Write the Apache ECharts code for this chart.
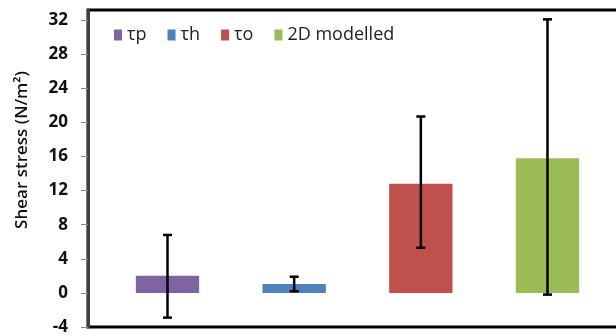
<!DOCTYPE html>
<html><head><meta charset="utf-8">
<script src="https://cdn.jsdelivr.net/npm/echarts@6/dist/echarts.min.js"></script>
<style>html,body{margin:0;padding:0;background:#fff}#c{width:616px;height:336px}</style>
</head><body><div id="c"></div>
<script>
const categories = [''];
const seriesNames = ['τp', 'τh', 'το', '2D modelled'];
const values = [2.0, 1.05, 12.8, 15.8];
const errLow = [-2.9, 0.2, 5.3, -0.2];
const errHigh = [6.8, 1.9, 20.7, 32.1];
const yMin = -4, yMax = 33.2, yInterval = 4;
const yTitle = 'Shear stress (N/m\u00B2)';

const colors = ['#8064A2', '#4F81BD', '#C0504D', '#9BBB59'];
const BAR_FRAC = 0.1175;
const chart = echarts.init(document.getElementById('c'));

const barSeries = seriesNames.map((n, i) => ({
  name: n, type: 'bar', barWidth: (BAR_FRAC * 100) + '%', barGap: '100%',
  itemStyle: { color: colors[i] },
  data: [values[i]], z: 2
}));

const errData = seriesNames.map((n, i) => [0, errLow[i], errHigh[i], i]);

chart.setOption({
  animation: false,
  grid: { left: 88, right: -11, top: 10, bottom: 9, show: true, borderColor: '#000', borderWidth: 3,
          containLabel: false, outerBoundsMode: 'none' },
  legend: {
    data: seriesNames, left: 109, top: 21, itemWidth: 8, itemHeight: 11, itemGap: 21,
    icon: 'rect',
    textStyle: { fontFamily: 'Open Sans', fontSize: 18, color: '#222' }
  },
  xAxis: { type: 'category', data: categories, axisLine: { show: false }, axisTick: { show: false }, axisLabel: { show: false } },
  yAxis: {
    type: 'value', min: yMin, max: yMax, interval: yInterval,
    splitLine: { show: false },
    axisLine: { show: true, lineStyle: { color: '#404040', width: 3 } },
    axisTick: { show: true, length: 7, lineStyle: { color: '#888', width: 1 } },
    axisLabel: { showMaxLabel: false, margin: 20, fontFamily: 'Open Sans', fontWeight: 'bold', fontSize: 17, color: '#111' }
  },
  graphic: [{
    type: 'text', x: 22, y: 150, rotation: Math.PI / 2,
    style: { text: yTitle, fontFamily: 'Open Sans', fontWeight: 600, fontSize: 17, fill: '#111', textAlign: 'center', textVerticalAlign: 'middle' }
  }],
  series: barSeries.concat([{
    type: 'custom', name: 'err', z: 5,
    encode: { x: 0, y: [1, 2] },
    data: errData,
    renderItem: function (params, api) {
      const idx = api.value(3);
      const hi = api.coord([0, api.value(2)]);
      const lo = api.coord([0, api.value(1)]);
      const bandW = api.size([1, 0])[0];
      const barW = bandW * BAR_FRAC;
      const x = hi[0] + (idx - 1.5) * 2 * barW;
      const cap = 4.5;
      const st = { stroke: '#000', lineWidth: 2.5 };
      return { type: 'group', children: [
        { type: 'line', shape: { x1: x, y1: hi[1], x2: x, y2: lo[1] }, style: st },
        { type: 'line', shape: { x1: x - cap, y1: hi[1], x2: x + cap, y2: hi[1] }, style: st },
        { type: 'line', shape: { x1: x - cap, y1: lo[1], x2: x + cap, y2: lo[1] }, style: st }
      ] };
    }
  }])
});
</script></body></html>
